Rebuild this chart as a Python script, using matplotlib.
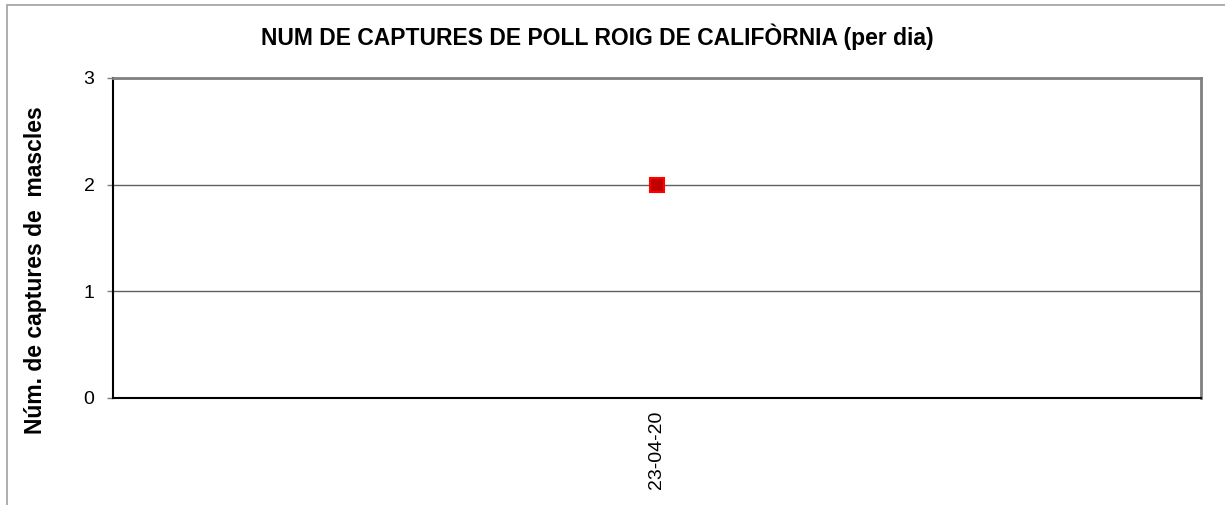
import matplotlib
matplotlib.use("Agg")
import matplotlib.pyplot as plt
from matplotlib.patches import Rectangle

categories = ["23-04-20"]
values = [2]
yticks = [0, 1, 2, 3]
title = "NUM DE CAPTURES DE POLL ROIG DE CALIFÒRNIA (per dia)"
ylabel = "Núm. de captures de  mascles"

plt.rcParams['font.family'] = ['Liberation Sans', 'DejaVu Sans']

W, H = 1225, 505
fig = plt.figure(figsize=(W/100, H/100), dpi=100)
fig.patch.set_facecolor('white')
# outer chart border (top and left visible)
fig.patches.append(Rectangle((7/W, -0.1), 1.2, (H-5)/H + 0.1, transform=fig.transFigure,
                             fill=False, edgecolor='#a0a0a0', linewidth=1.2))

l, r, t, b = 113, 1201, 78, 398
ax = fig.add_axes([l/W, 1-b/H, (r-l)/W, (b-t)/H])
x = list(range(len(categories)))
ax.plot(x, values, linestyle='none', marker='s', markersize=9.5,
        markerfacecolor='#C00000', markeredgecolor='#FF0000', markeredgewidth=1.5, zorder=5)
ax.set_xlim(-0.5, len(categories) - 0.5)
ax.set_ylim(0, 3)
ax.set_yticks(yticks)
ax.set_yticklabels([str(v) for v in yticks], fontsize=14)
ax.set_xticks(x)
ax.set_xticklabels(categories, rotation=90, fontsize=14)
ax.tick_params(axis='x', length=0, pad=9)
ax.tick_params(axis='y', length=4.3, width=1, color='#808080', pad=9)
ax.grid(axis='y', color='#606060', linewidth=1)
ax.set_axisbelow(True)
for s in ['top', 'right']:
    ax.spines[s].set_color('#808080')
    ax.spines[s].set_linewidth(2)
for s in ['left', 'bottom']:
    ax.spines[s].set_color('black')
    ax.spines[s].set_linewidth(1.5)

fig.text(597/W, 1-45/H, title, ha='center', va='baseline', fontsize=16.5, fontweight='bold')
fig.text(36/W, 1-270/H, ylabel, ha='center', va='center', rotation=90, fontsize=16.5, fontweight='bold')

fig.savefig("out.png", dpi=100)
